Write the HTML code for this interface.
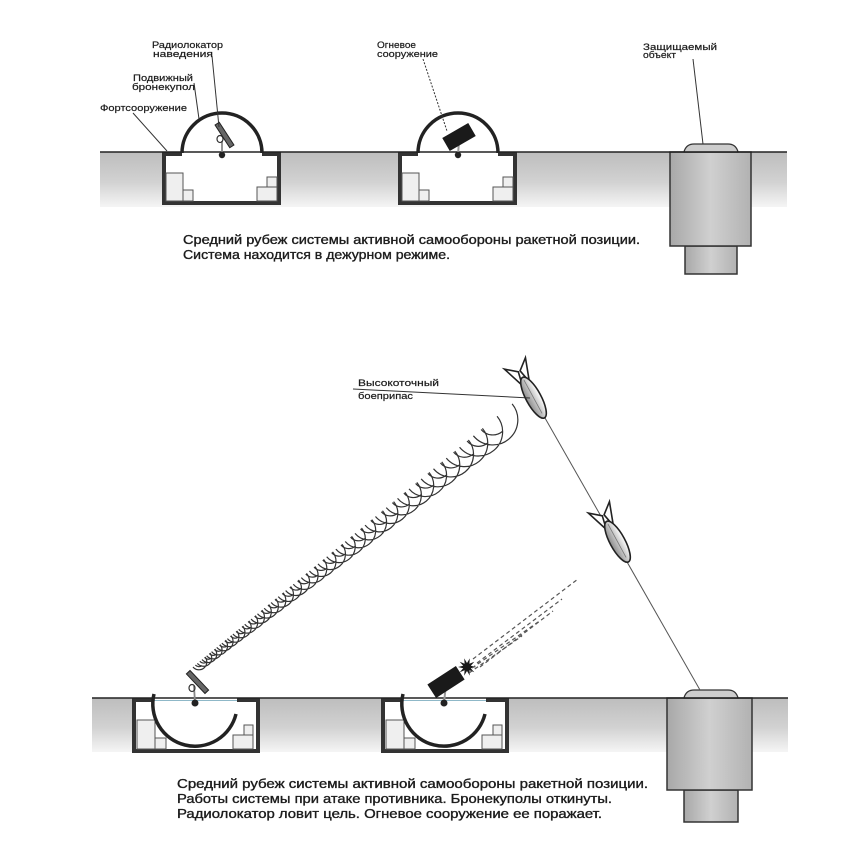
<!DOCTYPE html>
<html><head><meta charset="utf-8"><style>
html,body{margin:0;padding:0;background:#fff;}
svg{display:block;}
text{font-family:"Liberation Sans","DejaVu Sans",sans-serif;fill:#1c1c1c;}
.lb{font-size:9.5px;stroke:#1c1c1c;stroke-width:0.2;}
.cp{font-size:12.5px;stroke:#1c1c1c;stroke-width:0.35;}
</style></head><body>
<svg width="861" height="851" viewBox="0 0 861 851" xmlns="http://www.w3.org/2000/svg">
<defs>
<linearGradient id="gnd" x1="0" y1="0" x2="0" y2="1">
<stop offset="0" stop-color="#bdbdbd"/><stop offset="0.55" stop-color="#d2d2d2"/><stop offset="1" stop-color="#f5f5f5"/>
</linearGradient>
<linearGradient id="obj" x1="0" y1="0" x2="1" y2="0">
<stop offset="0" stop-color="#a8a8a8"/><stop offset="0.5" stop-color="#d0d0d0"/><stop offset="1" stop-color="#b2b2b2"/>
</linearGradient>
<linearGradient id="msl" x1="0" y1="0" x2="0" y2="1">
<stop offset="0" stop-color="#ffffff"/><stop offset="1" stop-color="#8c8c8c"/>
</linearGradient>
</defs>

<!-- ================= TOP SECTION ================= -->
<rect x="100" y="152" width="687" height="55" fill="url(#gnd)"/>

<g>
<rect x="162" y="152" width="119" height="53" fill="#333"/>
<rect x="166" y="156" width="111" height="45" fill="#fff"/>
<rect x="182" y="151" width="80" height="6" fill="#fff"/>
<rect x="166" y="173" width="17" height="28" fill="#efefef" stroke="#555" stroke-width="1"/>
<rect x="183" y="190" width="10" height="11" fill="#efefef" stroke="#555" stroke-width="1"/>
<rect x="257" y="187" width="20" height="14" fill="#efefef" stroke="#555" stroke-width="1"/>
<rect x="267" y="177" width="10" height="10" fill="#efefef" stroke="#555" stroke-width="1"/>
</g>
<g transform="translate(236,0)">
<rect x="162" y="152" width="119" height="53" fill="#333"/>
<rect x="166" y="156" width="111" height="45" fill="#fff"/>
<rect x="182" y="151" width="80" height="6" fill="#fff"/>
<rect x="166" y="173" width="17" height="28" fill="#efefef" stroke="#555" stroke-width="1"/>
<rect x="183" y="190" width="10" height="11" fill="#efefef" stroke="#555" stroke-width="1"/>
<rect x="257" y="187" width="20" height="14" fill="#efefef" stroke="#555" stroke-width="1"/>
<rect x="267" y="177" width="10" height="10" fill="#efefef" stroke="#555" stroke-width="1"/>
</g>

<rect x="685" y="246" width="52" height="28" fill="url(#obj)" stroke="#333" stroke-width="1.5"/>
<rect x="670" y="152" width="81" height="94" fill="url(#obj)" stroke="#333" stroke-width="1.5"/>
<path d="M684 152 Q686 144 694 144 L728 144 Q736 144 738 152 Z" fill="#cdcdcd" stroke="#333" stroke-width="1.3"/>

<line x1="100" y1="152" x2="787" y2="152" stroke="#222" stroke-width="1.6"/>

<path d="M182 153 A40 40 0 0 1 262 153" fill="none" stroke="#222" stroke-width="3.5"/>
<path d="M418 153 A40 40 0 0 1 498 153" fill="none" stroke="#222" stroke-width="3.5"/>

<line x1="222" y1="155" x2="222" y2="141" stroke="#888" stroke-width="1.8"/>
<ellipse cx="220" cy="139" rx="3" ry="3.5" fill="none" stroke="#333" stroke-width="1.2"/>
<rect x="222" y="121.5" width="5" height="27" fill="#666" stroke="#222" stroke-width="1" transform="rotate(-33 224.5 135)"/>
<circle cx="222" cy="155" r="3.2" fill="#222"/>

<line x1="458" y1="155" x2="459" y2="141" stroke="#999" stroke-width="2"/>
<rect x="444" y="129.5" width="30" height="15" fill="#1a1a1a" transform="rotate(-30 459 137)"/>
<circle cx="458" cy="155" r="3.2" fill="#222"/>

<line x1="212" y1="56" x2="219" y2="127" stroke="#333" stroke-width="1"/>
<line x1="194" y1="83" x2="199" y2="119" stroke="#333" stroke-width="1"/>
<line x1="133" y1="113" x2="167" y2="151" stroke="#333" stroke-width="1"/>
<line x1="423" y1="59" x2="447" y2="131" stroke="#333" stroke-width="1" stroke-dasharray="2 1.5"/>
<line x1="693" y1="59" x2="703" y2="144" stroke="#333" stroke-width="1"/>

<text class="lb" x="152" y="48" textLength="71" lengthAdjust="spacingAndGlyphs">Радиолокатор</text>
<text class="lb" x="153" y="57" textLength="60" lengthAdjust="spacingAndGlyphs">наведения</text>
<text class="lb" x="133" y="81" textLength="60" lengthAdjust="spacingAndGlyphs">Подвижный</text>
<text class="lb" x="132" y="90" textLength="63" lengthAdjust="spacingAndGlyphs">бронекупол</text>
<text class="lb" x="100" y="111" textLength="87" lengthAdjust="spacingAndGlyphs">Фортсооружение</text>
<text class="lb" x="377" y="48" textLength="39" lengthAdjust="spacingAndGlyphs">Огневое</text>
<text class="lb" x="377" y="57" textLength="61" lengthAdjust="spacingAndGlyphs">сооружение</text>
<text class="lb" x="643" y="50" textLength="74" lengthAdjust="spacingAndGlyphs">Защищаемый</text>
<text class="lb" x="643" y="58" textLength="33" lengthAdjust="spacingAndGlyphs">объект</text>

<text class="cp" x="183" y="244" textLength="457" lengthAdjust="spacingAndGlyphs">Средний рубеж системы активной самообороны ракетной позиции.</text>
<text class="cp" x="183" y="259" textLength="267" lengthAdjust="spacingAndGlyphs">Система находится в дежурном режиме.</text>

<!-- ================= BOTTOM SECTION ================= -->
<rect x="92" y="698" width="696" height="54" fill="url(#gnd)"/>

<g>
<rect x="132" y="698" width="128" height="55" fill="#333"/>
<rect x="136" y="702" width="120" height="47" fill="#fff"/>
<rect x="153" y="697" width="84" height="6" fill="#fff"/>
<rect x="137" y="720" width="18" height="29" fill="#efefef" stroke="#555" stroke-width="1"/>
<rect x="155" y="738" width="11" height="11" fill="#efefef" stroke="#555" stroke-width="1"/>
<rect x="233" y="735" width="20" height="14" fill="#efefef" stroke="#555" stroke-width="1"/>
<rect x="244" y="725" width="9" height="10" fill="#efefef" stroke="#555" stroke-width="1"/>
</g>
<g transform="translate(249,0)">
<rect x="132" y="698" width="128" height="55" fill="#333"/>
<rect x="136" y="702" width="120" height="47" fill="#fff"/>
<rect x="153" y="697" width="84" height="6" fill="#fff"/>
<rect x="137" y="720" width="18" height="29" fill="#efefef" stroke="#555" stroke-width="1"/>
<rect x="155" y="738" width="11" height="11" fill="#efefef" stroke="#555" stroke-width="1"/>
<rect x="233" y="735" width="20" height="14" fill="#efefef" stroke="#555" stroke-width="1"/>
<rect x="244" y="725" width="9" height="10" fill="#efefef" stroke="#555" stroke-width="1"/>
</g>

<rect x="684" y="790" width="54" height="32" fill="url(#obj)" stroke="#333" stroke-width="1.5"/>
<rect x="667" y="698" width="85" height="92" fill="url(#obj)" stroke="#333" stroke-width="1.5"/>
<path d="M684 698 Q686 690 694 690 L728 690 Q736 690 738 698 Z" fill="#cdcdcd" stroke="#333" stroke-width="1.3"/>

<line x1="92" y1="698" x2="788" y2="698" stroke="#222" stroke-width="1.6"/>
<line x1="153" y1="700.5" x2="237" y2="700.5" stroke="#8fb8c8" stroke-width="1"/>
<line x1="402" y1="700.5" x2="486" y2="700.5" stroke="#8fb8c8" stroke-width="1"/>

<path d="M154 694 A42 42 0 0 0 236 714" fill="none" stroke="#222" stroke-width="3.5"/>
<path d="M403 694 A42 42 0 0 0 485 714" fill="none" stroke="#222" stroke-width="3.5"/>

<line x1="195" y1="703" x2="194" y2="686" stroke="#888" stroke-width="1.8"/>
<ellipse cx="192" cy="688" rx="3" ry="3.5" fill="none" stroke="#333" stroke-width="1.2"/>
<rect x="195" y="668.5" width="5" height="27" fill="#666" stroke="#222" stroke-width="1" transform="rotate(-43.5 197.5 682)"/>
<circle cx="195" cy="703" r="3.5" fill="#222"/>

<!-- radar waves -->
<g transform="translate(199,662) rotate(-39.5)" fill="none" stroke="#333" stroke-width="1.2">
<path d="M-7.8 0A7.8 7.8 0 0 0 7.8 0M-2.1 0A8.1 8.1 0 0 0 14.1 0M3.9 0A8.3 8.3 0 0 0 20.5 0M9.9 0A8.7 8.7 0 0 0 27.3 0M16.3 0A9 9 0 0 0 34.3 0M23 0A9.2 9.2 0 0 0 41.4 0M29.7 0A9.6 9.6 0 0 0 48.9 0M36.8 0A9.9 9.9 0 0 0 56.6 0M44 0A10.3 10.3 0 0 0 64.6 0M51.5 0A10.7 10.7 0 0 0 72.9 0M59.3 0A11.1 11.1 0 0 0 81.5 0M67.5 0A11.4 11.4 0 0 0 90.3 0M75.8 0A11.8 11.8 0 0 0 99.4 0M84.5 0A12.2 12.2 0 0 0 108.9 0M93.5 0A12.6 12.6 0 0 0 118.7 0M102.7 0A13.1 13.1 0 0 0 128.9 0M112.3 0A13.5 13.5 0 0 0 139.3 0M122.2 0A14 14 0 0 0 150.2 0M132.6 0A14.4 14.4 0 0 0 161.4 0M143.1 0A15 15 0 0 0 173.1 0M154.2 0A15.5 15.5 0 0 0 185.2 0M165.5 0A16.1 16.1 0 0 0 197.7 0M177.4 0A16.6 16.6 0 0 0 210.6 0M189.5 0A17.2 17.2 0 0 0 223.9 0M202.2 0A17.8 17.8 0 0 0 237.8 0M215.2 0A18.5 18.5 0 0 0 252.2 0M228.7 0A19.1 19.1 0 0 0 266.9 0M242.7 0A19.8 19.8 0 0 0 282.3 0M257.3 0A20.4 20.4 0 0 0 298.1 0M272.2 0A21.2 21.2 0 0 0 314.6 0M287.9 0A21.8 21.8 0 0 0 331.5 0M303.9 0A22.6 22.6 0 0 0 349.1 0M320.5 0A23.4 23.4 0 0 0 367.3 0M337.7 0A24.3 24.3 0 0 0 386.3 0M355.6 0A25.1 25.1 0 0 0 405.8 0"/>
<path d="M-4.7 0A4.7 4.7 0 0 0 0 4.7M1.1 0A4.9 4.9 0 0 0 6 4.9M7.2 0A5 5 0 0 0 12.2 5M13.4 0A5.2 5.2 0 0 0 18.6 5.2M19.9 0A5.4 5.4 0 0 0 25.3 5.4M26.7 0A5.5 5.5 0 0 0 32.2 5.5M33.5 0A5.8 5.8 0 0 0 39.3 5.8M40.8 0A5.9 5.9 0 0 0 46.7 5.9M48.1 0A6.2 6.2 0 0 0 54.3 6.2M55.8 0A6.4 6.4 0 0 0 62.2 6.4M63.7 0A6.7 6.7 0 0 0 70.4 6.7M72.1 0A6.8 6.8 0 0 0 78.9 6.8M80.5 0A7.1 7.1 0 0 0 87.6 7.1M89.4 0A7.3 7.3 0 0 0 96.7 7.3M98.5 0A7.6 7.6 0 0 0 106.1 7.6M107.9 0A7.9 7.9 0 0 0 115.8 7.9M117.7 0A8.1 8.1 0 0 0 125.8 8.1M127.8 0A8.4 8.4 0 0 0 136.2 8.4M138.4 0A8.6 8.6 0 0 0 147 8.6M149.1 0A9 9 0 0 0 158.1 9M160.4 0A9.3 9.3 0 0 0 169.7 9.3M171.9 0A9.7 9.7 0 0 0 181.6 9.7M184 0A10 10 0 0 0 194 10M196.4 0A10.3 10.3 0 0 0 206.7 10.3M209.3 0A10.7 10.7 0 0 0 220 10.7M222.6 0A11.1 11.1 0 0 0 233.7 11.1M236.3 0A11.5 11.5 0 0 0 247.8 11.5M250.6 0A11.9 11.9 0 0 0 262.5 11.9M265.5 0A12.2 12.2 0 0 0 277.7 12.2M280.7 0A12.7 12.7 0 0 0 293.4 12.7M296.6 0A13.1 13.1 0 0 0 309.7 13.1M312.9 0A13.6 13.6 0 0 0 326.5 13.6M329.9 0A14 14 0 0 0 343.9 14M347.4 0A14.6 14.6 0 0 0 362 14.6M365.6 0A15.1 15.1 0 0 0 380.7 15.1"/>
</g>

<line x1="444" y1="703" x2="446" y2="684" stroke="#999" stroke-width="2"/>
<rect x="429" y="674" width="34" height="16" fill="#1a1a1a" transform="rotate(-33 446 682)"/>
<polygon points="476,667 470.8,668.2 474.3,672.3 469.4,670.2 469.8,675.6 467,671 464.2,675.6 464.6,670.2 459.7,672.3 463.2,668.2 458,667 463.2,665.8 459.7,661.7 464.6,663.8 464.2,658.4 467,663 469.8,658.4 469.4,663.8 474.3,661.7 470.8,665.8" fill="#1a1a1a"/>
<circle cx="444" cy="703" r="3.5" fill="#222"/>

<g stroke="#555" stroke-width="1.2" stroke-dasharray="4 3" fill="none">
<line x1="473" y1="659" x2="578" y2="579"/>
<line x1="477" y1="663" x2="562" y2="599"/>
<line x1="480" y1="667" x2="553" y2="611"/>
<line x1="472" y1="668" x2="541" y2="620"/>
<line x1="469" y1="673" x2="522" y2="636"/>
</g>

<line x1="545" y1="418" x2="700" y2="690" stroke="#555" stroke-width="1"/>

<g transform="translate(544,417) rotate(61.5)" stroke="#222" stroke-width="1.6">
<path d="M-38 -4 L-61 -12 L-52 -1 Z" fill="#fff"/>
<path d="M-38 4 L-61 12 L-52 1 Z" fill="#fff"/>
<ellipse cx="-22" cy="0" rx="23" ry="7.5" fill="url(#msl)"/>
<line x1="-42" y1="0" x2="-4" y2="0" stroke="#777" stroke-width="0.8"/>
</g>
<g transform="translate(628,561) rotate(61.5)" stroke="#222" stroke-width="1.6">
<path d="M-38 -4 L-61 -12 L-52 -1 Z" fill="#fff"/>
<path d="M-38 4 L-61 12 L-52 1 Z" fill="#fff"/>
<ellipse cx="-22" cy="0" rx="23" ry="7.5" fill="url(#msl)"/>
<line x1="-42" y1="0" x2="-4" y2="0" stroke="#777" stroke-width="0.8"/>
</g>

<line x1="353" y1="389" x2="530" y2="398" stroke="#333" stroke-width="1"/>
<text class="lb" x="358" y="386" textLength="81" lengthAdjust="spacingAndGlyphs">Высокоточный</text>
<text class="lb" x="358" y="399" textLength="55" lengthAdjust="spacingAndGlyphs">боеприпас</text>

<text class="cp" x="177" y="788" textLength="471" lengthAdjust="spacingAndGlyphs">Средний рубеж системы активной самообороны ракетной позиции.</text>
<text class="cp" x="177" y="803" textLength="435" lengthAdjust="spacingAndGlyphs">Работы системы при атаке противника. Бронекуполы откинуты.</text>
<text class="cp" x="177" y="818" textLength="425" lengthAdjust="spacingAndGlyphs">Радиолокатор ловит цель. Огневое сооружение ее поражает.</text>
</svg>
</body></html>
